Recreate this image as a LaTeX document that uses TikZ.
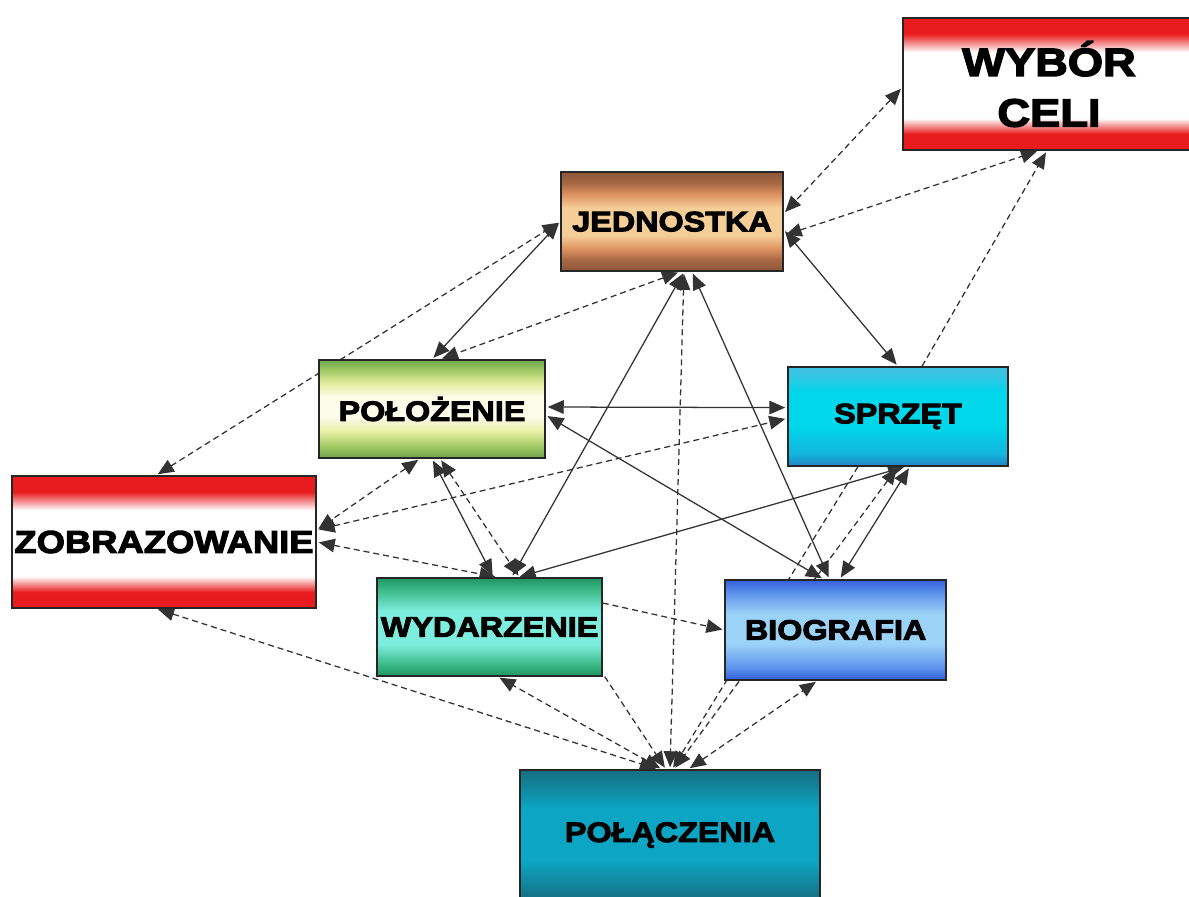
\documentclass[tikz,border=0pt]{standalone}
\usepackage{fontspec}
\newfontfamily\boxfont[FakeStretch=1.15,FakeBold=3.5]{Liberation Sans Bold}
\usetikzlibrary{arrows.meta,backgrounds}

\definecolor{boxred}{RGB}{232,28,30}
\definecolor{jedA}{RGB}{140,85,55}
\definecolor{jedB}{RGB}{170,105,70}
\definecolor{jedC}{RGB}{220,145,95}
\definecolor{jedD}{RGB}{245,205,150}
\definecolor{polA}{RGB}{110,165,75}
\definecolor{polB}{RGB}{160,200,100}
\definecolor{polC}{RGB}{230,238,160}
\definecolor{polD}{RGB}{252,252,235}
\definecolor{sprA}{RGB}{35,130,195}
\definecolor{sprB}{RGB}{20,180,220}
\definecolor{sprC}{RGB}{0,215,235}
\definecolor{sprD}{RGB}{60,195,225}
\definecolor{wydA}{RGB}{30,150,100}
\definecolor{wydB}{RGB}{60,185,135}
\definecolor{wydC}{RGB}{125,238,222}
\definecolor{bioA}{RGB}{50,95,220}
\definecolor{bioB}{RGB}{90,145,235}
\definecolor{bioC}{RGB}{155,210,247}
\definecolor{plA}{RGB}{22,110,130}
\definecolor{plB}{RGB}{12,165,195}

\pgfdeclareverticalshading{redshade}{100bp}{color(0bp)=(boxred); color(25bp)=(boxred); color(31bp)=(boxred); color(37bp)=(white); color(62bp)=(white); color(69bp)=(boxred); color(100bp)=(boxred)}
\pgfdeclareverticalshading{jedshade}{100bp}{color(0bp)=(jedA); color(25bp)=(jedA); color(31bp)=(jedB); color(36bp)=(jedC); color(43bp)=(jedD); color(57bp)=(jedD); color(64bp)=(jedC); color(69bp)=(jedB); color(75bp)=(jedA); color(100bp)=(jedA)}
\pgfdeclareverticalshading{polshade}{100bp}{color(0bp)=(polA); color(25bp)=(polA); color(31bp)=(polB); color(38bp)=(polC); color(46bp)=(polD); color(56bp)=(polD); color(63bp)=(polC); color(70bp)=(polB); color(75bp)=(polA); color(100bp)=(polA)}
\pgfdeclareverticalshading{sprshade}{100bp}{color(0bp)=(sprA); color(25bp)=(sprA); color(31bp)=(sprB); color(45bp)=(sprC); color(62bp)=(sprC); color(72bp)=(sprD); color(100bp)=(sprD)}
\pgfdeclareverticalshading{wydshade}{100bp}{color(0bp)=(wydA); color(25bp)=(wydA); color(31bp)=(wydB); color(41bp)=(wydC); color(58bp)=(wydC); color(69bp)=(wydB); color(75bp)=(wydA); color(100bp)=(wydA)}
\pgfdeclareverticalshading{bioshade}{100bp}{color(0bp)=(bioA); color(25bp)=(bioA); color(31bp)=(bioB); color(43bp)=(bioC); color(58bp)=(bioC); color(69bp)=(bioB); color(75bp)=(bioA); color(100bp)=(bioA)}
\pgfdeclareverticalshading{plshade}{100bp}{color(0bp)=(plA); color(25bp)=(plA); color(40bp)=(plB); color(60bp)=(plB); color(75bp)=(plA); color(100bp)=(plA)}

\begin{document}
\begin{tikzpicture}[semithick ,
box/.style ={rectangle ,shade ,draw=black!85 ,line width=0.9pt ,text=black ,inner sep=0pt ,
font=\boxfont\fontsize{20}{24}\selectfont},
both/.style ={{Triangle[length=0.4cm,width=0.34cm]}-{Triangle[length=0.4cm,width=0.34cm]},
shorten >=1.5pt ,shorten <=1.5pt ,black!80 ,line width=0.9pt},
one/.style ={-{Triangle[length=0.4cm,width=0.34cm]} ,shorten >=1.5pt ,black!80 ,line width=0.9pt},
broken/.style ={dash pattern=on 4.3pt off 2.8pt}]

\useasboundingbox (0,0) rectangle (29.725,-22.425);

\node[box ,shading=redshade ,minimum width=7.3cm ,minimum height=3.3cm ,align=center ,
font=\boxfont\fontsize{28}{36}\selectfont] (wybor) at (26.225,-2.1) {WYBÓR\\CELI};
\node[box ,shading=jedshade ,minimum width=5.55cm ,minimum height=2.475cm] (jed) at (16.8,-5.54) {JEDNOSTKA};
\node[box ,shading=polshade ,minimum width=5.65cm ,minimum height=2.45cm] (pol) at (10.8,-10.225) {POŁOŻENIE};
\node[box ,shading=sprshade ,minimum width=5.5cm ,minimum height=2.475cm] (sprz) at (22.45,-10.41) {SPRZĘT};
\node[box ,shading=redshade ,minimum width=7.6cm ,minimum height=3.3cm ,
font=\boxfont\fontsize{22.5}{27}\selectfont] (zob) at (4.1,-13.55) {ZOBRAZOWANIE};
\node[box ,shading=wydshade ,minimum width=5.625cm ,minimum height=2.45cm] (wyd) at (12.24,-15.675) {WYDARZENIE};
\node[box ,shading=bioshade ,minimum width=5.525cm ,minimum height=2.5cm] (bio) at (20.89,-15.75) {BIOGRAFIA};
\node[box ,shading=plshade ,minimum width=7.5cm ,minimum height=3.25cm] (polacz) at (16.75,-20.875) {POŁĄCZENIA};

\begin{pgfonlayer}{background}
\fill[white] (0,0) rectangle (29.725,-22.425);

\draw[both ,broken] ([yshift=-0.08cm]wybor.west) -- ([yshift=0.2cm]jed.east);
\draw[both ,broken] ([yshift=-0.35cm]jed.east) -- ([xshift=-0.25cm]wybor.south);
\draw[one ,broken] ([xshift=0.6cm]sprz.north) -- ([xshift=-0.05cm]wybor.south);

\draw[both] ([yshift=-0.2cm]jed.east) -- (sprz.north);
\draw[both] (jed.west) -- (pol.north);
\draw[both ,broken] ([xshift=-0.2cm]zob.north) -- (jed.west);
\draw[both ,broken] ([xshift=0.2cm]jed.south) -- ([xshift=0.2cm]pol.north);
\draw[both ,broken] ([xshift=0.3cm]jed.south) -- (polacz.north);
\draw[both] ([xshift=0.3cm]jed.south) -- ([xshift=0.55cm]wyd.north);
\draw[both] ([xshift=0.5cm]jed.south) -- ([xshift=-0.15cm]bio.north);

\draw[both] ([yshift=0.05cm]pol.east) -- ([yshift=0.22cm]sprz.west);
\draw[both] ([yshift=-0.15cm]pol.east) -- ([xshift=-0.3cm]bio.north);
\draw[both ,broken] ([xshift=-0.3cm]pol.south) -- ([yshift=0.3cm]zob.east);
\draw[both] (pol.south) -- ([xshift=0.1cm]wyd.north);
\draw[both ,broken] ([xshift=0.2cm]pol.south) -- ([xshift=0.75cm]wyd.north);

\draw[both ,broken] ([yshift=0.3cm]zob.east) -- ([yshift=-0.05cm]sprz.west);
\draw[both ,broken] (zob.east) -- ([xshift=0.2cm]wyd.north);
\draw[both ,broken] ([xshift=-0.2cm]zob.south) -- ([xshift=-0.3cm]polacz.north);

\draw[both] ([xshift=0.2cm]sprz.south) -- ([xshift=0.7cm]wyd.north);
\draw[both] ([xshift=0.3cm]sprz.south) -- ([xshift=0.1cm]bio.north);
\draw[both ,broken] (sprz.south) -- ([xshift=0.1cm]polacz.north);
\draw[one ,broken] ([xshift=-1cm]sprz.south) -- ([xshift=0.05cm]polacz.north);

\draw[both ,broken] ([xshift=0.45cm]polacz.north) -- ([xshift=-0.45cm]bio.south);
\draw[both ,broken] ([xshift=-0.2cm]polacz.north) -- ([xshift=0.2cm]wyd.south);
\draw[one ,broken] ([xshift=0.05cm]wyd.south east) -- ([xshift=-0.1cm]polacz.north);
\draw[one ,broken] ([yshift=0.6cm]wyd.east) -- (bio.west);
\end{pgfonlayer}
\end{tikzpicture}
\end{document}
